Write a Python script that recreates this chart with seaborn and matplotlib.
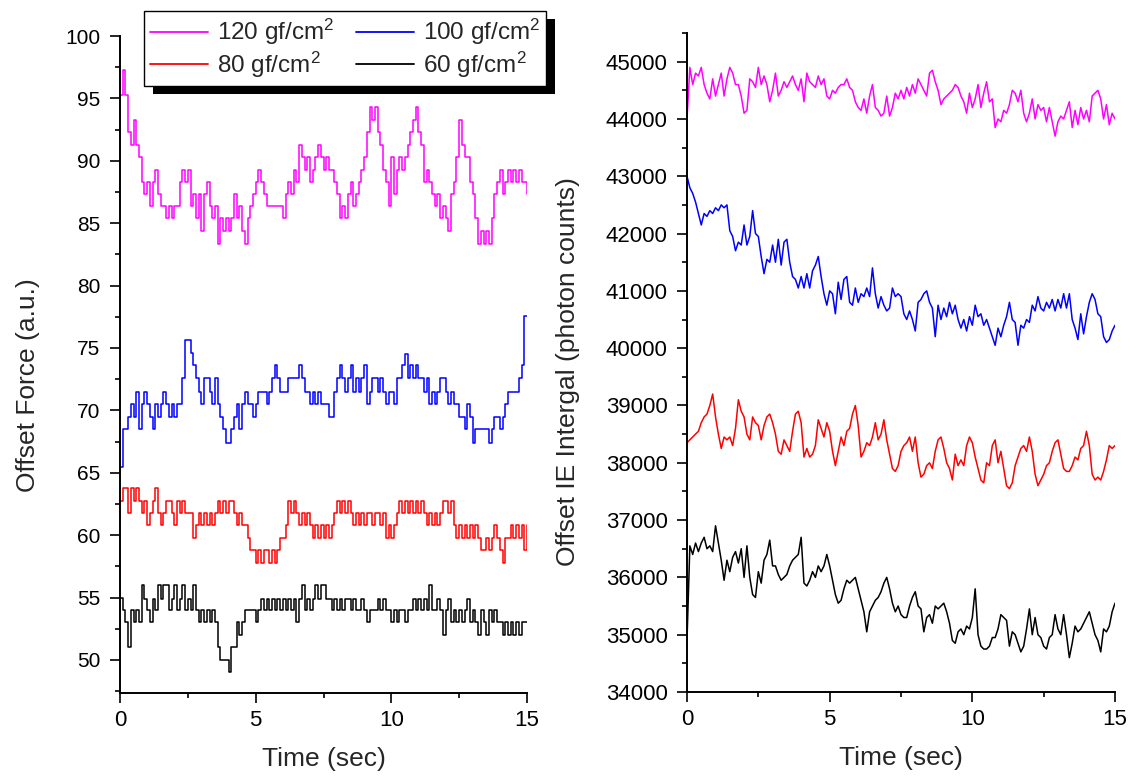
import numpy as np
import pandas as pd
import matplotlib
matplotlib.use("Agg")
import matplotlib.pyplot as plt
import seaborn as sns
from matplotlib.ticker import MultipleLocator
from matplotlib.patches import Rectangle
from matplotlib.lines import Line2D

# ---------------- data ----------------
labels = ["120 gf/cm$^2$", "100 gf/cm$^2$", "80 gf/cm$^2$", "60 gf/cm$^2$"]
colors = ["#FF00FF", "#0000FF", "#FF0000", "#000000"]

force_120 = [95.3, 97.3, 95.3, 92.3, 91.3, 93.3, 91.3, 90.3, 88.3, 87.3,
             88.3, 86.4, 88.3, 89.3, 87.3, 86.4, 86.4, 85.4, 86.4, 85.4,
             86.4, 86.4, 88.3, 89.3, 88.3, 89.3, 86.4, 87.3, 85.4, 87.3,
             84.4, 87.3, 88.3, 86.4, 85.4, 86.4, 83.3, 85.4, 84.4, 85.4,
             84.4, 85.4, 87.3, 85.4, 86.4, 84.4, 83.3, 85.4, 86.4, 87.3,
             88.3, 89.3, 88.3, 87.3, 86.4, 86.4, 86.4, 86.4, 86.4, 86.4,
             85.4, 87.3, 88.3, 87.3, 89.3, 88.3, 91.3, 90.3, 89.3, 90.3,
             88.3, 89.3, 90.3, 91.3, 90.3, 89.3, 90.3, 89.3, 89.3, 88.3,
             87.3, 85.4, 86.4, 85.4, 87.3, 88.3, 86.4, 87.3, 88.3, 89.3,
             90.3, 92.3, 94.3, 93.3, 94.3, 92.3, 91.3, 89.3, 88.3, 86.4,
             90.3, 87.3, 89.3, 90.3, 89.3, 90.3, 91.3, 92.3, 93.3, 94.3,
             92.3, 91.3, 88.3, 89.3, 88.3, 87.3, 86.4, 87.3, 85.4, 86.4,
             85.4, 84.4, 87.3, 88.3, 90.3, 93.3, 91.3, 90.3, 90.3, 88.3,
             87.3, 85.4, 83.3, 84.4, 83.3, 84.4, 83.3, 85.4, 87.3, 88.3,
             89.3, 87.3, 88.3, 89.3, 88.3, 89.3, 88.3, 89.3, 88.3, 88.3,
             87.3]

force_100 = [65.5, 68.5, 68.5, 69.5, 70.5, 69.5, 71.5, 68.5, 70.5, 71.5,
             70.5, 69.5, 68.5, 70.5, 69.5, 70.5, 71.5, 70.5, 69.5, 70.5,
             69.5, 70.5, 70.5, 72.6, 75.6, 75.6, 74.6, 73.6, 72.6, 71.5,
             70.5, 72.6, 72.6, 71.5, 70.5, 72.6, 70.5, 69.5, 68.5, 67.4,
             67.4, 68.5, 69.5, 70.5, 68.5, 70.5, 71.5, 70.5, 70.5, 69.5,
             70.5, 71.5, 71.5, 71.5, 70.5, 71.5, 72.6, 73.6, 72.6, 71.5,
             71.5, 71.5, 72.6, 72.6, 72.6, 72.6, 73.6, 72.6, 71.5, 71.5,
             70.5, 71.5, 70.5, 71.5, 70.5, 70.5, 70.5, 69.5, 69.5, 71.5,
             72.6, 73.6, 72.6, 71.5, 72.6, 73.6, 71.5, 72.6, 71.5, 72.6,
             73.6, 70.5, 71.5, 72.6, 72.6, 71.5, 72.6, 71.5, 70.5, 71.5,
             71.5, 70.5, 72.6, 72.6, 73.6, 74.5, 72.6, 73.6, 72.6, 73.6,
             72.6, 72.6, 71.5, 72.6, 70.5, 71.5, 70.5, 71.5, 72.6, 72.6,
             71.5, 70.5, 71.5, 70.5, 70.5, 69.5, 69.5, 68.5, 70.5, 69.5,
             67.4, 68.5, 68.5, 68.5, 68.5, 68.5, 67.4, 68.5, 69.5, 69.5,
             68.5, 69.5, 70.5, 71.5, 71.5, 71.5, 71.5, 72.6, 73.6, 77.6,
             77.6]

force_80 = [62.7, 63.8, 63.8, 61.8, 63.8, 62.7, 63.8, 62.7, 61.8, 62.7,
            60.8, 61.8, 62.7, 63.8, 61.8, 60.8, 61.8, 62.7, 62.7, 61.8,
            60.8, 62.7, 61.8, 62.7, 61.8, 61.8, 61.8, 59.8, 60.8, 61.8,
            60.8, 61.8, 60.8, 61.8, 60.8, 61.8, 62.7, 61.8, 62.7, 61.8,
            62.7, 62.7, 61.8, 60.8, 61.8, 60.8, 60.8, 59.8, 58.8, 58.8,
            57.8, 58.8, 57.8, 58.8, 58.8, 57.8, 58.8, 57.8, 58.8, 59.8,
            59.8, 60.8, 62.7, 61.8, 62.7, 61.8, 60.8, 61.8, 60.8, 61.8,
            60.8, 59.8, 60.8, 59.8, 60.8, 59.8, 60.8, 59.8, 60.8, 61.8,
            62.7, 61.8, 62.7, 61.8, 62.7, 61.8, 60.8, 61.8, 60.8, 61.8,
            60.8, 61.8, 61.8, 60.8, 61.8, 61.8, 60.8, 61.8, 59.8, 60.8,
            59.8, 60.8, 61.8, 62.7, 61.8, 62.7, 61.8, 62.7, 61.8, 62.7,
            61.8, 62.7, 61.8, 60.8, 61.8, 60.8, 61.8, 60.8, 61.8, 62.7,
            62.7, 61.8, 62.7, 60.8, 59.8, 60.8, 59.8, 60.8, 59.8, 60.8,
            59.8, 60.8, 59.8, 58.8, 58.8, 59.8, 58.8, 59.8, 60.8, 59.8,
            58.8, 57.8, 59.8, 59.8, 60.8, 59.8, 60.8, 59.8, 60.8, 58.8,
            60.8]

force_60 = [55.0, 54.0, 53.0, 51.0, 54.0, 53.0, 54.0, 53.0, 56.0, 54.9,
            54.0, 53.0, 54.9, 54.0, 56.0, 54.9, 56.0, 56.0, 54.0, 54.9,
            56.0, 54.0, 54.9, 56.0, 54.0, 54.9, 54.0, 56.0, 54.0, 53.0,
            54.0, 53.0, 54.0, 53.0, 54.0, 53.0, 51.0, 50.0, 50.0, 50.0,
            49.0, 51.0, 51.0, 53.0, 52.0, 53.0, 54.0, 54.0, 54.0, 54.0,
            53.0, 54.0, 54.9, 54.0, 54.9, 54.0, 54.9, 54.0, 54.9, 54.0,
            54.9, 54.0, 54.9, 54.0, 54.9, 53.0, 54.9, 56.0, 54.0, 54.9,
            54.0, 54.9, 56.0, 54.9, 56.0, 56.0, 54.9, 54.9, 54.0, 54.9,
            54.0, 54.9, 54.0, 54.9, 54.9, 54.0, 54.9, 54.0, 54.0, 54.9,
            54.0, 53.0, 54.0, 54.0, 54.0, 54.9, 54.0, 54.9, 54.0, 54.0,
            53.0, 54.0, 53.0, 54.0, 54.0, 53.0, 54.0, 54.0, 54.9, 54.0,
            54.9, 54.0, 54.9, 54.0, 56.0, 54.0, 54.0, 54.9, 54.0, 52.0,
            54.0, 54.9, 53.0, 54.0, 53.0, 54.0, 53.0, 54.0, 54.9, 53.0,
            54.0, 53.0, 52.0, 54.0, 53.0, 52.0, 54.0, 53.0, 54.0, 53.0,
            53.0, 52.0, 53.0, 52.0, 53.0, 52.0, 53.0, 52.0, 53.0, 53.0,
            53.0]

ie_120 = [44000, 44900, 44600, 44800, 44750, 44900, 44600, 44450, 44350, 44700,
          44400, 44600, 44800, 44400, 44700, 44900, 44800, 44600, 44600, 44400,
          44100, 44150, 44700, 44650, 44550, 44900, 44600, 44750, 44600, 44300,
          44500, 44800, 44400, 44500, 44650, 44550, 44650, 44750, 44600, 44500,
          44700, 44300, 44800, 44650, 44600, 44550, 44750, 44600, 44700, 44400,
          44350, 44500, 44450, 44550, 44600, 44600, 44700, 44550, 44500, 44300,
          44200, 44150, 44350, 44100, 44400, 44600, 44200, 44150, 44050, 44100,
          44400, 44050, 44200, 44450, 44350, 44500, 44350, 44550, 44400, 44600,
          44450, 44700, 44600, 44500, 44400, 44800, 44850, 44650, 44500, 44250,
          44350, 44400, 44450, 44500, 44600, 44550, 44400, 44300, 44100, 44450,
          44200, 44350, 44600, 44200, 44450, 44650, 44300, 44350, 43850, 44000,
          43950, 44150, 44100, 44250, 44500, 44450, 44300, 44500, 44100, 43950,
          44100, 44350, 44000, 44250, 44150, 44200, 43950, 44200, 43950, 43700,
          43950, 44050, 44000, 44150, 44300, 43850, 44150, 43900, 44200, 44000,
          44150, 43950, 44400, 44450, 44500, 44350, 44000, 44250, 43900, 44100,
          44000]

ie_100 = [43000, 42800, 42700, 42550, 42350, 42150, 42350, 42300, 42400, 42350,
          42450, 42400, 42500, 42450, 42500, 42050, 41950, 41700, 41850, 41800,
          42150, 41800, 41950, 42400, 42000, 41950, 41600, 41300, 41550, 41500,
          41800, 41500, 41900, 41450, 41850, 41900, 41500, 41250, 41200, 41050,
          41250, 41050, 41300, 41050, 41350, 41450, 41600, 41250, 40950, 40750,
          41000, 40950, 40600, 41150, 40850, 41200, 41250, 40800, 40750, 41050,
          40800, 40950, 40900, 41050, 40900, 41400, 40950, 40700, 40900, 40750,
          40650, 40700, 41050, 40900, 40950, 40900, 40600, 40500, 40650, 40500,
          40300, 40800, 40850, 40950, 41000, 40800, 40700, 40200, 40750, 40500,
          40700, 40550, 40800, 40600, 40750, 40500, 40350, 40500, 40300, 40550,
          40400, 40750, 40550, 40600, 40400, 40500, 40350, 40200, 40050, 40350,
          40200, 40400, 40550, 40800, 40500, 40450, 40050, 40400, 40350, 40500,
          40450, 40750, 40650, 40900, 40700, 40650, 40800, 40700, 40850, 40650,
          40850, 40700, 40950, 40700, 40950, 40500, 40350, 40150, 40600, 40250,
          40550, 40800, 40950, 40850, 40600, 40550, 40200, 40100, 40150, 40300,
          40400]

ie_80 = [38350, 38400, 38450, 38500, 38550, 38700, 38800, 38850, 39000, 39200,
         38800, 38500, 38250, 38450, 38400, 38450, 38300, 38600, 39100, 38900,
         38800, 38500, 38400, 38800, 38700, 38650, 38400, 38650, 38800, 38850,
         38700, 38500, 38200, 38150, 38400, 38300, 38200, 38550, 38850, 38900,
         38700, 38100, 38250, 38100, 38150, 38300, 38750, 38600, 38450, 38700,
         38550, 38200, 37950, 38200, 38450, 38300, 38550, 38600, 38850, 39000,
         38650, 38100, 38200, 38350, 38300, 38450, 38700, 38400, 38500, 38750,
         38400, 38150, 37900, 37850, 37950, 38200, 38300, 38350, 38450, 38200,
         38450, 38000, 37750, 37800, 37950, 38000, 37900, 38200, 38400, 38450,
         38250, 38000, 37900, 37700, 38150, 37950, 38050, 37950, 38300, 38450,
         38350, 38100, 37900, 37700, 37650, 38000, 37950, 38300, 38400, 38000,
         38200, 37900, 37600, 37550, 37650, 37950, 38100, 38250, 38300, 38200,
         38450, 38200, 37800, 37600, 37700, 37800, 37950, 38000, 38200, 38350,
         38400, 38150, 37900, 37850, 37850, 37950, 38100, 38050, 38250, 38300,
         38550, 38300, 37800, 37700, 37750, 37700, 37850, 38050, 38300, 38250,
         38300]

ie_60 = [34900, 36550, 36400, 36600, 36450, 36600, 36700, 36500, 36550, 36450,
         36900, 36600, 36300, 35950, 36300, 36100, 36350, 36450, 36250, 36500,
         36000, 36550, 36000, 35700, 35650, 36100, 35900, 36300, 36400, 36650,
         36200, 36200, 36050, 35950, 36000, 36050, 36200, 36300, 36350, 36400,
         36700, 35900, 35850, 35950, 36100, 36000, 36200, 36100, 36200, 36400,
         36200, 35950, 35700, 35550, 35600, 35800, 35950, 35900, 35950, 36000,
         35800, 35600, 35400, 35050, 35400, 35500, 35600, 35650, 35750, 35900,
         36000, 35800, 35550, 35400, 35500, 35350, 35300, 35300, 35500, 35650,
         35750, 35500, 35450, 35050, 35300, 35350, 35200, 35500, 35450, 35500,
         35550, 35400, 35200, 34900, 34850, 35050, 35100, 35000, 35150, 35100,
         35300, 35800, 35000, 34800, 34750, 34750, 34800, 34950, 34950, 35100,
         35350, 35300, 35250, 34800, 35050, 35000, 34850, 34700, 34800, 35100,
         35450, 35000, 35300, 35000, 34950, 34800, 34750, 34950, 35000, 35350,
         35100, 35000, 35350, 35000, 34600, 34850, 35150, 35050, 35100, 35200,
         35300, 35400, 35200, 35000, 34900, 34700, 35100, 35050, 35150, 35400,
         35550]

force_series = [force_120, force_100, force_80, force_60]
ie_series = [ie_120, ie_100, ie_80, ie_60]

# ---------------- style ----------------
sns.set_style("ticks")
plt.rcParams["font.family"] = ["Liberation Sans", "DejaVu Sans"]
plt.rcParams["mathtext.fontset"] = "custom"
plt.rcParams["mathtext.rm"] = "Liberation Sans"
plt.rcParams["mathtext.it"] = "Liberation Sans:italic"
plt.rcParams["mathtext.bf"] = "Liberation Sans:bold"

W, H = 1138, 783
fig = plt.figure(figsize=(W / 100, H / 100), dpi=100)
fig.patch.set_facecolor("white")

axL = fig.add_axes([120 / W, 1 - 693 / H, (527 - 120) / W, (693 - 36) / H])
axR = fig.add_axes([687 / W, 1 - 692 / H, (1115 - 687) / W, (692 - 33) / H])

for vals, c in zip(force_series, colors):
    t = np.linspace(0, 15, len(vals))
    sns.lineplot(x=t, y=vals, ax=axL, color=c, linewidth=1.1,
                 drawstyle="steps-post", estimator=None, sort=False,
                 legend=False)

for vals, c in zip(ie_series, colors):
    t = np.linspace(0, 15, len(vals))
    sns.lineplot(x=t, y=vals, ax=axR, color=c, linewidth=1.1,
                 estimator=None, sort=False, legend=False)

for ax in (axL, axR):
    ax.set_xlim(0, 15)
    ax.xaxis.set_major_locator(MultipleLocator(5))
    ax.xaxis.set_minor_locator(MultipleLocator(2.5))
    ax.spines["top"].set_visible(False)
    ax.spines["right"].set_visible(False)
    for s in ("left", "bottom"):
        ax.spines[s].set_linewidth(1.4)
        ax.spines[s].set_color("black")
    ax.tick_params(which="major", direction="out", length=7, width=1.2,
                   color="black", labelcolor="black")
    ax.tick_params(which="minor", direction="out", length=3.5, width=1.2,
                   color="black")
    ax.tick_params(axis="y", pad=7)
    ax.tick_params(axis="x", labelsize=16, pad=5)
    ax.set_xlabel("Time (sec)", fontsize=19, labelpad=12)
    ax.set_facecolor("white")

axL.tick_params(axis="y", labelsize=15)
axR.tick_params(axis="y", labelsize=16)

axL.set_ylim(47.35, 100)
axL.yaxis.set_major_locator(MultipleLocator(5))
axL.yaxis.set_minor_locator(MultipleLocator(2.5))
axL.set_ylabel("Offset Force (a.u.)", fontsize=19)
axL.yaxis.set_label_coords(-0.197, 0.469)

axR.set_ylim(34000, 45500)
axR.yaxis.set_major_locator(MultipleLocator(1000))
axR.yaxis.set_minor_locator(MultipleLocator(500))
axR.set_ylabel("Offset IE Intergal (photon counts)", fontsize=19)
axR.yaxis.set_label_coords(-0.25, 0.486)

# legend (column-major order for 2 columns)
order = [0, 2, 1, 3]
handles = [Line2D([], [], color=colors[i], linewidth=1.3) for i in order]
leg = fig.legend(handles=handles, labels=[labels[i] for i in order],
                 ncol=2, loc="upper left",
                 bbox_to_anchor=(144 / W, 1 - 11 / H),
                 bbox_transform=fig.transFigure,
                 fontsize=17.5, frameon=True, fancybox=False,
                 handlelength=2.4, handletextpad=0.35, columnspacing=0.9,
                 labelspacing=0.1, borderpad=0.25, borderaxespad=0)
leg.get_frame().set_edgecolor("black")
leg.get_frame().set_linewidth(1.0)
leg.get_frame().set_alpha(1)
leg.set_zorder(10)

fig.canvas.draw()
bb = leg.get_window_extent().transformed(fig.transFigure.inverted())
dx, dy = 9 / W, 8 / H
shadow = Rectangle((bb.x0 + dx, bb.y0 - dy), bb.width, bb.height,
                   transform=fig.transFigure, facecolor="black",
                   edgecolor="none", zorder=9)
fig.add_artist(shadow)

fig.savefig("out.png", dpi=100, facecolor="white")
